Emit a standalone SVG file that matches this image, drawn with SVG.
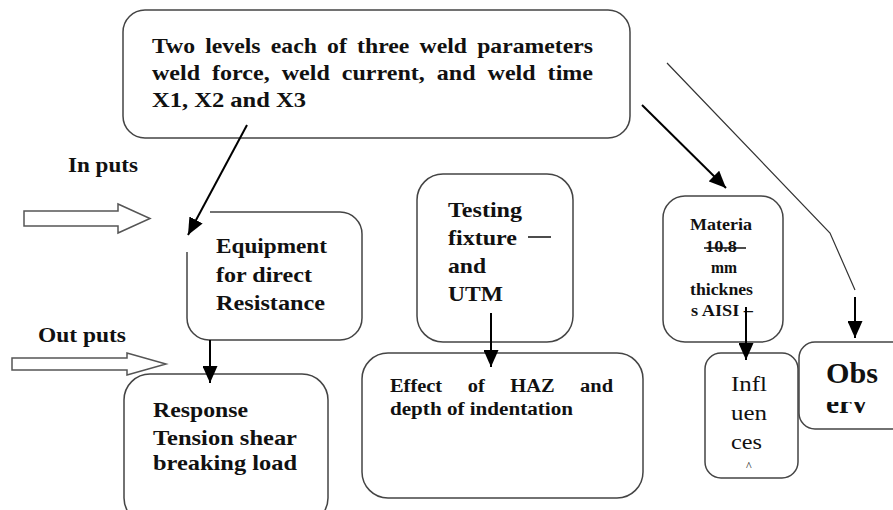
<svg xmlns="http://www.w3.org/2000/svg" width="893" height="510" viewBox="0 0 893 510">
<style>
.box{fill:#fff;stroke:#444;stroke-width:1.5}
.t{font-family:"Liberation Serif","Times New Roman",serif;font-weight:bold;fill:#111}
.r{font-family:"Liberation Serif","Times New Roman",serif;font-weight:normal;fill:#111}
.arr{stroke:#000;stroke-width:2;fill:none;marker-end:url(#ah)}
.thin{stroke:#333;stroke-width:1.2;fill:none}
.hollow{fill:#fff;stroke:#555;stroke-width:1.5}
</style>
<defs>
<marker id="ah" markerUnits="userSpaceOnUse" markerWidth="17" markerHeight="15" refX="17" refY="7.5" orient="auto">
<path d="M0,0 L17,7.5 L0,15 z" fill="#000"/>
</marker>
<clipPath id="clipErv"><rect x="800" y="402" width="93" height="27"/></clipPath>
</defs>

<rect width="893" height="510" fill="#fff"/>

<g id="top">
<rect class="box" x="123" y="10" width="507" height="128" rx="22"/>
<text class="t" font-size="22" x="152" y="53" word-spacing="4" textLength="441" lengthAdjust="spacingAndGlyphs">Two levels each of three weld parameters</text>
<text class="t" font-size="22" x="152" y="80" word-spacing="5.5" textLength="441" lengthAdjust="spacingAndGlyphs">weld force, weld current, and weld time</text>
<text class="t" font-size="22" x="152" y="107" textLength="154" lengthAdjust="spacingAndGlyphs">X1, X2 and X3</text>
</g>

<g id="inputs">
<text class="t" font-size="22" x="68" y="172" textLength="70" lengthAdjust="spacingAndGlyphs">In puts</text>
<path class="hollow" d="M24,211 H118 V204 L150,218.5 L118,233 V226 H24 Z"/>
</g>

<g id="outputs">
<text class="t" font-size="22" x="38" y="342" textLength="88" lengthAdjust="spacingAndGlyphs">Out puts</text>
<path class="hollow" d="M12,358 H127 V353 L166,364 L127,375 V370 H12 Z"/>
</g>

<g id="equipment">
<path class="box" d="M210,212 H340 A22,22 0 0 1 362,234 V318 A22,22 0 0 1 340,340 H209 A22,22 0 0 1 187,318 V252"/>
<text class="t" font-size="20" x="216" y="253" textLength="111" lengthAdjust="spacingAndGlyphs">Equipment</text>
<text class="t" font-size="20" x="216" y="282" textLength="96" lengthAdjust="spacingAndGlyphs">for direct</text>
<text class="t" font-size="20" x="216" y="310" textLength="109" lengthAdjust="spacingAndGlyphs">Resistance</text>
</g>

<g id="response">
<rect class="box" x="124" y="374" width="204" height="150" rx="26"/>
<text class="t" font-size="21" x="153" y="417" textLength="95" lengthAdjust="spacingAndGlyphs">Response</text>
<text class="t" font-size="21" x="153" y="445" textLength="144" lengthAdjust="spacingAndGlyphs">Tension shear</text>
<text class="t" font-size="21" x="153" y="470" textLength="144" lengthAdjust="spacingAndGlyphs">breaking load</text>
</g>

<g id="testing">
<rect class="box" x="417" y="174" width="156" height="168" rx="26"/>
<text class="t" font-size="22" x="448" y="217" textLength="74" lengthAdjust="spacingAndGlyphs">Testing</text>
<text class="t" font-size="22" x="448" y="245" textLength="69" lengthAdjust="spacingAndGlyphs">fixture</text>
<line x1="528" y1="237" x2="551" y2="237" stroke="#111" stroke-width="1.5"/>
<text class="t" font-size="22" x="448" y="273" textLength="38" lengthAdjust="spacingAndGlyphs">and</text>
<text class="t" font-size="22" x="448" y="301" textLength="55" lengthAdjust="spacingAndGlyphs">UTM</text>
</g>

<g id="effect">
<rect class="box" x="362" y="353" width="281" height="145" rx="26"/>
<text class="t" font-size="18" x="390" y="392" word-spacing="18" textLength="223" lengthAdjust="spacingAndGlyphs">Effect of HAZ and</text>
<text class="t" font-size="18" x="390" y="415" textLength="183" lengthAdjust="spacingAndGlyphs">depth of indentation</text>
</g>

<g id="material">
<rect class="box" x="663" y="196" width="120" height="146" rx="22"/>
<text class="t" font-size="16" x="690" y="230" textLength="62" lengthAdjust="spacingAndGlyphs">Materia</text>
<text class="t" font-size="16" x="705" y="252" textLength="32" lengthAdjust="spacingAndGlyphs">10.8</text>
<line x1="704" y1="248" x2="746" y2="248" stroke="#111" stroke-width="1.3"/>
<text class="t" font-size="16" x="711" y="273" textLength="26" lengthAdjust="spacingAndGlyphs">mm</text>
<text class="t" font-size="16" x="690" y="295" textLength="63" lengthAdjust="spacingAndGlyphs">thicknes</text>
<text class="t" font-size="16" x="691" y="316" textLength="62" lengthAdjust="spacingAndGlyphs">s AISI –</text>
</g>

<g id="influences">
<rect class="box" x="705" y="353" width="93" height="125" rx="16"/>
<text class="r" font-size="21" x="731" y="391" textLength="36" lengthAdjust="spacingAndGlyphs">Infl</text>
<text class="r" font-size="21" x="731" y="420" textLength="36" lengthAdjust="spacingAndGlyphs">uen</text>
<text class="r" font-size="21" x="731" y="449" textLength="31" lengthAdjust="spacingAndGlyphs">ces</text>
<text class="r" font-size="12" x="746" y="470">^</text>
</g>

<g id="observ">
<rect class="box" x="799" y="342" width="110" height="87" rx="16"/>
<text class="t" font-size="29" x="826" y="383" textLength="52" lengthAdjust="spacingAndGlyphs">Obs</text>
<text class="t" font-size="29" x="826" y="413" textLength="41" lengthAdjust="spacingAndGlyphs" clip-path="url(#clipErv)">erv</text>
</g>

<g id="connectors">
<line class="arr" x1="247" y1="125" x2="188" y2="235"/>
<line class="arr" x1="210" y1="340" x2="210" y2="383"/>
<line class="arr" x1="491" y1="313" x2="491" y2="367"/>
<line class="arr" x1="642" y1="105" x2="726" y2="188"/>
<line class="arr" x1="746" y1="307" x2="746" y2="360"/>
<line class="arr" x1="855" y1="297" x2="855" y2="338"/>
<polyline class="thin" points="667,63 830,233 855,290"/>
</g>
</svg>
